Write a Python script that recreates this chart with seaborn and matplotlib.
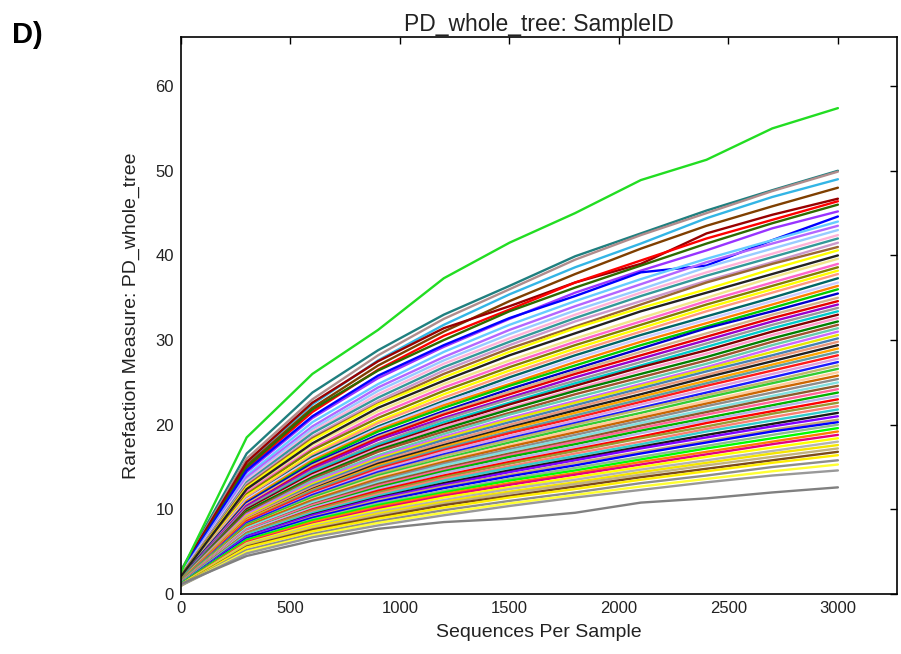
import matplotlib
matplotlib.use("Agg")
import matplotlib.pyplot as plt
import seaborn as sns
import pandas as pd

depths = [0, 300, 600, 900, 1200, 1500, 1800, 2100, 2400, 2700, 3000]

top_curve = [2.6, 18.5, 26.0, 31.2, 37.3, 41.5, 45.0, 48.9, 51.3, 55.0, 57.4]
bottom_curve = [1.2, 4.5, 6.3, 7.7, 8.5, 8.9, 9.6, 10.8, 11.3, 12.0, 12.6]

high_curves = [
    [2.8, 16.6, 23.8, 28.8, 33.0, 36.4, 39.9, 42.6, 45.3, 47.7, 50.0],
    [2.7, 16.0, 23.0, 28.2, 32.5, 36.0, 39.5, 42.4, 45.0, 47.6, 49.9],
    [2.6, 15.5, 22.4, 27.6, 31.8, 35.4, 38.6, 41.4, 44.4, 46.9, 49.0],
    [2.6, 15.2, 22.0, 27.0, 31.0, 34.6, 37.8, 40.8, 43.5, 45.8, 48.0],
    [2.7, 15.6, 22.6, 27.5, 31.4, 34.0, 36.8, 39.0, 42.6, 44.8, 46.7],
    [2.5, 14.8, 21.5, 26.5, 30.5, 33.6, 36.8, 39.4, 42.0, 44.2, 46.4],
    [2.5, 15.0, 21.8, 26.4, 30.0, 33.4, 36.2, 38.8, 41.4, 43.8, 46.0],
    [2.4, 14.4, 20.8, 25.5, 29.2, 32.5, 35.6, 38.2, 40.6, 43.2, 45.2],
    [2.6, 14.6, 21.0, 25.8, 29.4, 32.6, 35.2, 38.0, 38.8, 41.8, 44.6],
    [2.4, 14.0, 20.3, 24.8, 28.6, 31.8, 34.6, 37.2, 39.6, 41.8, 44.0],
    [2.3, 13.8, 19.8, 24.4, 28.0, 31.2, 34.0, 36.6, 39.2, 41.4, 43.5],
    [2.3, 13.5, 19.5, 24.0, 27.6, 30.7, 33.5, 36.0, 38.6, 40.8, 43.0],
    [2.3, 13.4, 19.2, 23.6, 27.2, 30.2, 33.0, 35.6, 38.0, 40.2, 42.4],
    [2.2, 13.2, 19.0, 23.2, 26.8, 29.8, 32.6, 35.2, 37.6, 39.8, 42.0],
    [2.2, 13.0, 18.6, 22.8, 26.4, 29.4, 32.2, 34.6, 37.0, 39.2, 41.5],
    [2.2, 12.8, 18.4, 22.5, 26.0, 29.0, 31.6, 34.2, 36.8, 39.0, 41.0],
    [2.1, 12.6, 18.2, 22.4, 25.6, 28.6, 31.4, 33.8, 36.0, 38.4, 40.6],
    [2.1, 12.4, 17.8, 22.0, 25.2, 28.2, 30.8, 33.4, 35.6, 37.8, 40.0],
]
high_colors = ["#1f7f7f", "#b08c8c", "#33b5e5", "#7f3f00", "#990000", "#ff0000",
               "#2e6b00", "#9933ff", "#0000ff", "#66ccff", "#b366ff", "#99ccff",
               "#ffb3d9", "#339999", "#cc99cc", "#996633", "#ffff00", "#222222"]

mid_curves = [
    [2.1, 12.2, 17.6, 21.6, 24.8, 27.6, 30.2, 32.6, 35.0, 37.4, 39.6],
    [2.0, 12.0, 17.2, 21.2, 24.4, 27.2, 29.8, 32.2, 34.6, 36.8, 39.0],
    [2.0, 11.8, 17.0, 20.8, 24.0, 26.8, 29.4, 31.8, 34.2, 36.4, 38.6],
    [2.0, 11.6, 16.6, 20.4, 23.6, 26.4, 29.0, 31.4, 33.8, 36.0, 38.2],
    [2.0, 11.4, 16.4, 20.2, 23.2, 26.0, 28.6, 31.0, 33.4, 35.6, 37.8],
    [1.9, 11.2, 16.2, 19.8, 22.8, 25.6, 28.2, 30.6, 32.8, 35.0, 37.3],
    [1.9, 11.2, 16.0, 19.6, 22.6, 25.2, 27.8, 30.2, 32.4, 34.6, 36.8],
    [1.9, 11.0, 15.8, 19.4, 22.3, 24.8, 27.4, 29.8, 32.0, 34.2, 36.4],
    [1.9, 10.8, 15.6, 19.2, 22.0, 24.6, 27.0, 29.4, 31.6, 33.8, 36.0],
    [1.9, 10.8, 15.4, 18.8, 21.6, 24.2, 26.6, 29.0, 31.4, 33.4, 35.5],
    [1.8, 10.6, 15.2, 18.6, 21.4, 23.9, 26.3, 28.6, 30.8, 33.0, 35.0],
    [1.8, 10.4, 15.0, 18.4, 21.2, 23.6, 26.0, 28.2, 30.4, 32.6, 34.6],
    [1.8, 10.4, 14.8, 18.2, 20.8, 23.2, 25.6, 27.8, 30.0, 32.2, 34.2],
    [1.8, 10.2, 14.6, 17.8, 20.6, 23.0, 25.2, 27.4, 29.6, 31.8, 33.8],
    [1.8, 10.0, 14.4, 17.6, 20.3, 22.6, 24.9, 27.0, 29.2, 31.4, 33.4],
    [1.7, 10.0, 14.2, 17.4, 20.0, 22.4, 24.6, 26.8, 28.8, 31.0, 33.0],
    [1.7, 9.8, 14.0, 17.2, 19.8, 22.0, 24.2, 26.4, 28.4, 30.6, 32.6],
    [1.7, 9.8, 13.8, 17.0, 19.5, 21.8, 24.0, 26.0, 28.0, 30.2, 32.2],
    [1.7, 9.6, 13.6, 16.8, 19.2, 21.4, 23.6, 25.6, 27.6, 29.8, 31.8],
    [1.7, 9.4, 13.4, 16.4, 18.9, 21.2, 23.2, 25.2, 27.2, 29.4, 31.4],
    [1.6, 9.4, 13.2, 16.2, 18.6, 20.8, 22.8, 24.8, 26.8, 29.0, 31.0],
    [1.6, 9.2, 13.0, 16.0, 18.4, 20.6, 22.6, 24.6, 26.6, 28.6, 30.6],
    [1.6, 9.0, 12.8, 15.8, 18.2, 20.3, 22.3, 24.3, 26.3, 28.2, 30.2],
    [1.6, 9.0, 12.6, 15.6, 17.9, 20.0, 22.0, 24.0, 25.9, 27.9, 29.8],
    [1.6, 8.8, 12.4, 15.4, 17.6, 19.7, 21.7, 23.6, 25.6, 27.5, 29.4],
    [1.6, 8.8, 12.3, 15.2, 17.4, 19.5, 21.4, 23.3, 25.2, 27.1, 29.0],
    [1.5, 8.6, 12.2, 15.0, 17.2, 19.2, 21.1, 23.0, 24.9, 26.8, 28.6],
    [1.5, 8.6, 12.0, 14.8, 17.0, 19.0, 20.8, 22.7, 24.6, 26.4, 28.2],
    [1.5, 8.4, 11.8, 14.6, 16.8, 18.7, 20.5, 22.4, 24.2, 26.0, 27.8],
    [1.5, 8.4, 11.7, 14.4, 16.5, 18.4, 20.2, 22.0, 23.8, 25.6, 27.4],
    [1.5, 8.2, 11.5, 14.2, 16.3, 18.2, 20.0, 21.8, 23.5, 25.2, 27.0],
    [1.5, 8.2, 11.4, 14.0, 16.0, 17.9, 19.7, 21.4, 23.2, 24.9, 26.6],
    [1.4, 8.0, 11.2, 13.8, 15.8, 17.6, 19.4, 21.1, 22.8, 24.5, 26.2],
    [1.4, 8.0, 11.1, 13.6, 15.6, 17.4, 19.1, 20.8, 22.5, 24.2, 25.8],
    [1.4, 7.8, 10.9, 13.4, 15.4, 17.1, 18.8, 20.5, 22.2, 23.8, 25.4],
    [1.4, 7.8, 10.8, 13.2, 15.2, 16.9, 18.5, 20.2, 21.8, 23.4, 25.0],
]
mid_colors = ["#f0e68c", "#ff66cc", "#808000", "#ffff00", "#ff9980", "#006666",
              "#ccccff", "#ff8000", "#00cc00", "#0000cc", "#d2b48c", "#e60000",
              "#9900cc", "#999999", "#00cccc", "#800000", "#ff99cc", "#008000",
              "#a0522d", "#66cdaa", "#cc66ff", "#e6e600", "#4682b4", "#e9967a",
              "#222222", "#ffa500", "#5f9ea0", "#ff1a1a", "#dda0dd", "#1a1aff",
              "#bdb76b", "#33cc33", "#ffcc99", "#cc6600", "#8c8c8c", "#80dfdf"]

low_curves = [
    [1.4, 7.6, 10.6, 13.0, 14.9, 16.6, 18.2, 19.9, 21.5, 23.1, 24.6],
    [1.4, 7.6, 10.5, 12.8, 14.7, 16.4, 18.0, 19.6, 21.2, 22.7, 24.2],
    [1.3, 7.4, 10.3, 12.6, 14.5, 16.2, 17.7, 19.3, 20.8, 22.3, 23.8],
    [1.3, 7.4, 10.2, 12.4, 14.3, 15.9, 17.4, 19.0, 20.5, 22.0, 23.4],
    [1.3, 7.2, 10.0, 12.2, 14.0, 15.6, 17.1, 18.6, 20.2, 21.6, 23.0],
    [1.3, 7.2, 9.9, 12.0, 13.8, 15.4, 16.9, 18.4, 19.8, 21.3, 22.6],
    [1.3, 7.0, 9.7, 11.8, 13.6, 15.1, 16.6, 18.0, 19.5, 20.9, 22.2],
    [1.3, 7.0, 9.6, 11.6, 13.4, 14.9, 16.3, 17.7, 19.2, 20.5, 21.8],
    [1.2, 6.8, 9.4, 11.4, 13.1, 14.6, 16.0, 17.4, 18.8, 20.1, 21.4],
    [1.2, 6.8, 9.3, 11.3, 12.9, 14.4, 15.8, 17.2, 18.5, 19.8, 21.0],
    [1.2, 6.6, 9.1, 11.1, 12.7, 14.1, 15.5, 16.8, 18.1, 19.4, 20.6],
    [1.2, 6.6, 9.0, 10.9, 12.5, 13.9, 15.2, 16.6, 17.9, 19.2, 20.3],
    [1.2, 6.4, 8.8, 10.7, 12.2, 13.6, 14.9, 16.2, 17.5, 18.8, 20.0],
    [1.2, 6.4, 8.7, 10.5, 12.0, 13.4, 14.6, 15.9, 17.2, 18.4, 19.6],
    [1.1, 6.2, 8.5, 10.3, 11.8, 13.1, 14.3, 15.6, 16.8, 18.0, 19.2],
    [1.1, 6.1, 8.3, 10.1, 11.6, 12.9, 14.1, 15.3, 16.5, 17.7, 18.8],
    [1.1, 6.0, 8.2, 9.9, 11.4, 12.6, 13.8, 15.0, 16.2, 17.3, 18.4],
    [1.1, 5.9, 8.0, 9.7, 11.1, 12.4, 13.5, 14.7, 15.8, 16.9, 18.0],
    [1.1, 5.8, 7.9, 9.5, 10.9, 12.1, 13.2, 14.4, 15.5, 16.6, 17.6],
    [1.0, 5.7, 7.7, 9.3, 10.7, 11.9, 13.0, 14.1, 15.2, 16.2, 17.2],
    [1.0, 5.6, 7.6, 9.1, 10.5, 11.6, 12.7, 13.8, 14.8, 15.8, 16.8],
    [1.0, 5.5, 7.4, 8.9, 10.2, 11.4, 12.4, 13.5, 14.5, 15.5, 16.4],
    [1.0, 5.2, 7.1, 8.6, 9.9, 11.0, 12.0, 13.1, 14.0, 15.0, 15.8],
    [1.0, 5.0, 6.9, 8.4, 9.6, 10.7, 11.7, 12.7, 13.6, 14.5, 15.3],
    [1.0, 4.8, 6.7, 8.1, 9.3, 10.4, 11.4, 12.3, 13.2, 14.0, 14.6],
]
low_colors = ["#8b5a2b", "#ff6699", "#00b300", "#b3b3e6", "#ff0000", "#999933",
              "#fa8072", "#33cccc", "#1a1a1a", "#8000ff", "#c8a878", "#0000ff",
              "#8fbc8f", "#00ff00", "#ff7f00", "#e6007e", "#ffff00", "#b3b3b3",
              "#f5e600", "#c2b280", "#7a4a1a", "#ffee00", "#8c8c8c", "#ffff33",
              "#999999"]

top_color = "#22dd22"
bottom_color = "#808080"

# Build long-form table
records = []
all_sets = [(mid_curves, mid_colors, "m"), (low_curves, low_colors, "l"),
            (high_curves, high_colors, "h")]
palette = {}
for curves, colors, tag in all_sets:
    for i, (vals, col) in enumerate(zip(curves, colors)):
        name = f"{tag}{i}"
        palette[name] = col
        for d, v in zip(depths, vals):
            records.append((name, d, v))
for name, vals, col in [("bottom", bottom_curve, bottom_color), ("top", top_curve, top_color)]:
    palette[name] = col
    for d, v in zip(depths, vals):
        records.append((name, d, v))

df = pd.DataFrame(records, columns=["SampleID", "depth", "pd"])

sns.set_style("white")
plt.rcParams["font.family"] = ["Liberation Sans", "DejaVu Sans"]

fig = plt.figure(figsize=(9.01, 6.54), dpi=100)
ax = fig.add_axes([0.2009, 0.0917, 0.7947, 0.8517])

sns.lineplot(data=df, x="depth", y="pd", hue="SampleID", palette=palette,
             hue_order=list(palette.keys()), estimator=None, sort=False,
             legend=False, linewidth=1.7, ax=ax)

ax.set_xlim(0, 3270)
ax.set_ylim(0, 65.8)
ax.set_xticks([0, 500, 1000, 1500, 2000, 2500, 3000])
ax.set_yticks([0, 10, 20, 30, 40, 50, 60])
ax.tick_params(direction="in", length=5, width=1, top=True, right=True,
               labelsize=12, colors="black", labelcolor="#222222", pad=5)
for s in ax.spines.values():
    s.set_color("black")
    s.set_linewidth(1.2)
    s.set_visible(True)
ax.set_xlabel("Sequences Per Sample", fontsize=14, color="#222222", labelpad=6)
ax.set_ylabel("Rarefaction Measure: PD_whole_tree", fontsize=14, color="#222222", labelpad=11)
ax.set_title("PD_whole_tree: SampleID", fontsize=16.5, color="#222222", pad=4)
fig.text(0.013, 0.947, "D)", fontsize=21, fontweight="bold", color="black",
         ha="left", va="center")

fig.savefig("out.png", dpi=100, facecolor="white")
